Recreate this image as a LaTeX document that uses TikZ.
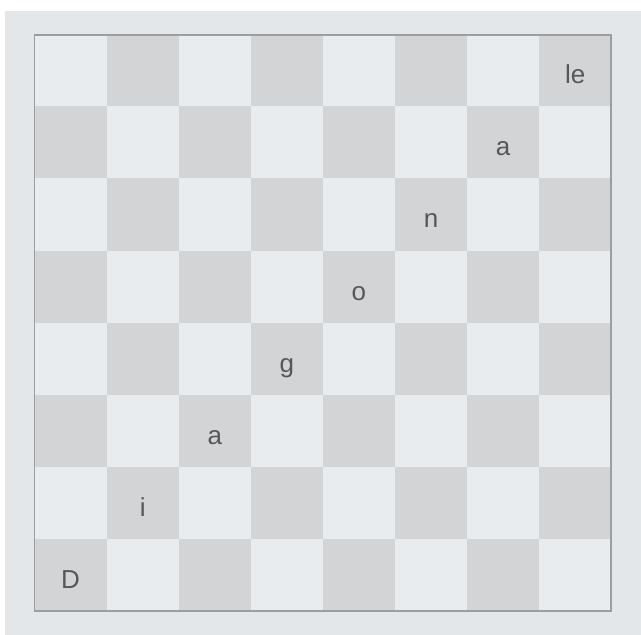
\documentclass[tikz,border=0pt]{standalone}
\usepackage{fontspec}
\setmainfont{Liberation Sans}
\definecolor{pagebg}{HTML}{E4E7E9}
\definecolor{lightsq}{HTML}{E9ECEE}
\definecolor{darksq}{HTML}{D3D4D6}
\definecolor{frame}{HTML}{9C9D9F}
\definecolor{letter}{HTML}{555759}
\begin{document}
\begin{tikzpicture}[x=1pt,y=-1pt,
  lbl/.style={anchor=base,text=letter,font=\fontsize{26}{26}\selectfont,inner sep=0pt}]
\useasboundingbox (0,0) rectangle (641,635);
\fill[white] (0,0) rectangle (641,635);
\fill[pagebg] (5,11) rectangle (641,635);
\def\sq{72.1}
\foreach \c in {0,...,7}{
  \foreach \r in {0,...,7}{
    \pgfmathtruncatemacro{\parity}{mod(\c+\r,2)}
    \ifnum\parity=0
      \fill[darksq] ({34.5+\c*\sq},{611-\r*\sq}) rectangle ({34.5+(\c+1)*\sq},{611-(\r+1)*\sq});
    \else
      \fill[lightsq] ({34.5+\c*\sq},{611-\r*\sq}) rectangle ({34.5+(\c+1)*\sq},{611-(\r+1)*\sq});
    \fi
  }
}
\draw[frame,line width=1.5pt] (34.5,35) rectangle (611,611);
\foreach \t [count=\i from 0] in {D,i,a,g,o,n,a,le}{
  \node[lbl] (l\i) at ({34.5+(\i+0.5)*\sq},{611-(\i+0.5)*\sq+13.5}) {\t};
}
\end{tikzpicture}
\end{document}
